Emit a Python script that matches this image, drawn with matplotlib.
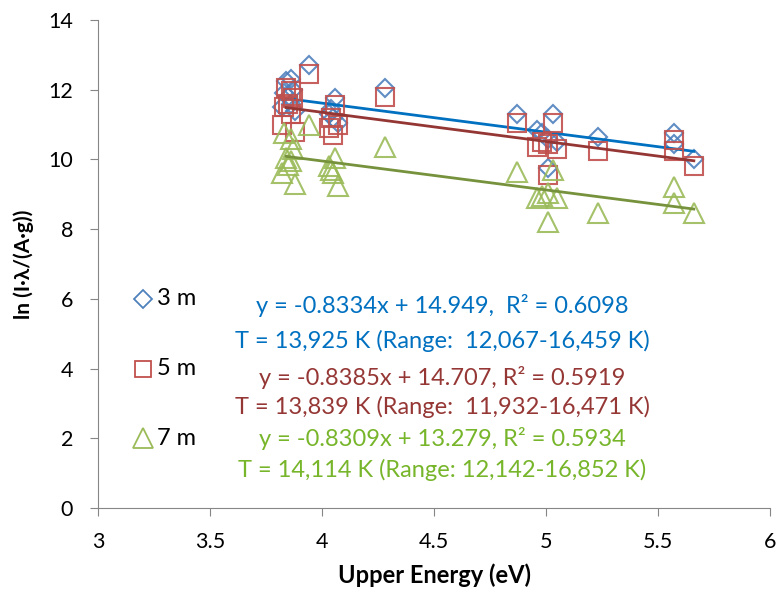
import matplotlib
matplotlib.use("Agg")
import matplotlib.pyplot as plt
import numpy as np

# upper energy levels (eV), shared by all three distances
energy = [3.82, 3.83, 3.84, 3.85, 3.86, 3.86, 3.87, 3.88, 3.94, 4.03, 4.04, 4.05, 4.06,
          4.07, 4.28, 4.87, 4.96, 4.98, 5.01, 5.01, 5.03, 5.05, 5.23, 5.57, 5.57, 5.66]
ln_3m = [11.5, 11.9, 12.25, 11.8, 12.3, 11.6, 12.0, 11.4, 12.7, 11.3, 11.45, 11.2, 11.75,
         11.05, 12.05, 11.3, 10.85, 10.75, 9.75, 10.6, 11.3, 10.5, 10.65, 10.75, 10.45, 10.0]
ln_5m = [11.0, 11.5, 12.05, 11.6, 11.95, 11.3, 11.75, 10.8, 12.45, 10.9, 11.2, 10.7, 11.55,
         11.0, 11.8, 11.05, 10.35, 10.5, 9.55, 10.45, 11.05, 10.3, 10.25, 10.55, 10.25, 9.8]
ln_7m = [9.6, 10.75, 10.05, 9.85, 10.6, 9.95, 10.3, 9.3, 11.0, 9.8, 9.7, 9.6, 10.05,
         9.25, 10.35, 9.65, 8.9, 8.95, 8.2, 9.05, 9.7, 8.9, 8.45, 9.2, 8.75, 8.45]

labels = ["3 m", "5 m", "7 m"]
slopes = [-0.8334, -0.8385, -0.8309]
intercepts = [14.949, 14.707, 13.279]
fit_range = [3.84, 5.66]

eq_text = [
    ["y = -0.8334x + 14.949,  R² = 0.6098", "T = 13,925 K (Range:  12,067-16,459 K)"],
    ["y = -0.8385x + 14.707, R² = 0.5919", "T = 13,839 K (Range:  11,932-16,471 K)"],
    ["y = -0.8309x + 13.279, R² = 0.5934", "T = 14,114 K (Range: 12,142-16,852 K)"],
]

marker_cols = ["#4F81BD", "#C0504D", "#9BBB59"]
line_cols = ["#0070C0", "#943634", "#76923C"]
text_cols = ["#0070C0", "#953735", "#77B52A"]
markers = ["D", "s", "^"]
msizes = [9, 13, 15]

plt.rcParams["font.family"] = ["Lato", "DejaVu Sans"]

fig = plt.figure(figsize=(7.77, 6), dpi=100)
ax = fig.add_axes([98 / 777, 92 / 600, 672 / 777, 488 / 600])

series = [ln_3m, ln_5m, ln_7m]
for i, ys in enumerate(series):
    ax.plot(energy, ys, linestyle="none", marker=markers[i], markersize=msizes[i],
            markerfacecolor="none", markeredgecolor=marker_cols[i],
            markeredgewidth=1.5, label=labels[i], alpha=0.9)
    xs = np.array(fit_range)
    ax.plot(xs, slopes[i] * xs + intercepts[i], color=line_cols[i], lw=2)

# legend markers placed inside the plot
leg_y = [6.0, 4.0, 2.0]
for i in range(3):
    ax.plot([3.2], [leg_y[i]], marker=markers[i], markersize=[9, 12, 14][i],
            markerfacecolor="none", markeredgecolor=marker_cols[i], markeredgewidth=1.3,
            linestyle="none")
    ax.text(3.263, leg_y[i], labels[i], fontsize=17, va="center", ha="left")

text_y = [[5.8, 4.8], [3.75, 2.9], [2.0, 1.1]]
for i in range(3):
    for j in range(2):
        ax.text(4.536, text_y[i][j], eq_text[i][j], fontsize=17, color=text_cols[i],
                ha="center", va="center")

ax.set_xlim(3, 6)
ax.set_ylim(0, 14)
ax.set_xticks([3, 3.5, 4, 4.5, 5, 5.5, 6])
ax.set_xticklabels(["3", "3.5", "4", "4.5", "5", "5.5", "6"])
ax.set_yticks(range(0, 15, 2))
ax.tick_params(labelsize=15.5, direction="out", color="#868686")
ax.tick_params(axis="x", length=5.5, pad=12)
ax.tick_params(axis="y", length=6, pad=12)
for s in ["top", "right"]:
    ax.spines[s].set_visible(False)
for s in ["left", "bottom"]:
    ax.spines[s].set_color("#868686")
ax.set_xlabel("Upper Energy (eV)", fontsize=17, fontweight="bold", labelpad=8)
ax.set_ylabel("ln (I·λ/(A·g))", fontsize=15, fontweight="bold", labelpad=10)

fig.savefig("out.png", dpi=100)
